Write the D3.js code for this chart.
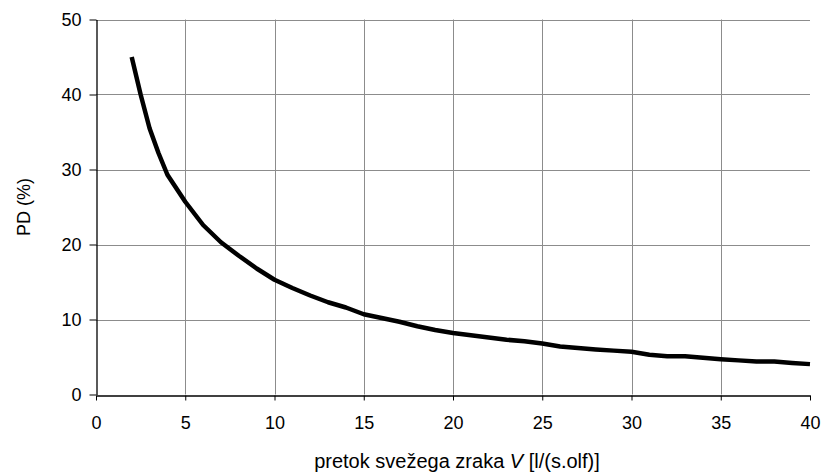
<!DOCTYPE html>
<html>
<head>
<meta charset="utf-8">
<title>PD vs pretok svežega zraka</title>
<script src="https://d3js.org/d3.v7.min.js"></script>
<style>
    body {
        margin: 0;
        background: #fff;
        font-family: "Liberation Sans", Arial, sans-serif;
    }
    .tick text { font-size: 18px; fill: #000; }
</style>
</head>
<body>
<script>
    // ventilation rate V [l/(s.olf)]
    const flow = [2, 2.5, 3, 3.5, 4, 5, 6, 7, 8, 9, 10, 11, 12, 13, 14, 15, 16, 17, 18, 19, 20,
                  21, 22, 23, 24, 25, 26, 27, 28, 29, 30, 31, 32, 33, 34, 35, 36, 37, 38, 39, 40];
    // percentage dissatisfied
    const pd = [45, 40, 35.5, 32.2, 29.3, 25.7, 22.6, 20.3, 18.5, 16.8, 15.3, 14.2, 13.2, 12.3, 11.6, 10.7,
                10.2, 9.7, 9.1, 8.6, 8.2, 7.9, 7.6, 7.3, 7.1, 6.8, 6.4, 6.2, 6.0, 5.85, 5.7,
                5.3, 5.1, 5.1, 4.9, 4.7, 4.55, 4.4, 4.4, 4.2, 4.05];

    const xTicks = [0, 5, 10, 15, 20, 25, 30, 35, 40];
    const yTicks = [0, 10, 20, 30, 40, 50];

    const W = 822, H = 472;
    const m = {left: 96, right: 12, top: 19.5, bottom: 77.5};

    const svg = d3.select("body").append("svg")
        .attr("width", W).attr("height", H);

    const x = d3.scaleLinear().domain([0, 40]).range([m.left, W - m.right]);
    const y = d3.scaleLinear().domain([0, 50]).range([H - m.bottom, m.top]);

    // gridlines
    svg.append("g").selectAll("line")
        .data(yTicks.filter(d => d > 0))
        .join("line")
        .attr("x1", x(0)).attr("x2", x(40))
        .attr("y1", d => Math.round(y(d)) + 0.5).attr("y2", d => Math.round(y(d)) + 0.5)
        .attr("stroke", "#8c8c8c").attr("stroke-width", 1);

    svg.append("g").selectAll("line")
        .data(xTicks.filter(d => d > 0 && d < 40))
        .join("line")
        .attr("x1", d => Math.round(x(d)) + 0.5).attr("x2", d => Math.round(x(d)) + 0.5)
        .attr("y1", y(0)).attr("y2", y(50))
        .attr("stroke", "#8c8c8c").attr("stroke-width", 1);

    // axes
    const xAxis = svg.append("g")
        .attr("transform", `translate(0,${Math.round(y(0)) + 0.5})`)
        .call(d3.axisBottom(x).tickValues(xTicks).tickSize(5).tickPadding(16).tickSizeOuter(0));
    const yAxis = svg.append("g")
        .attr("transform", `translate(${Math.round(x(0)) + 0.5},0)`)
        .call(d3.axisLeft(y).tickValues(yTicks).tickSize(7).tickPadding(8).tickSizeOuter(0));

    [xAxis, yAxis].forEach(a => {
        a.attr("font-family", null).attr("font-size", null);
        a.select(".domain").attr("stroke", "#000").attr("stroke-width", 1.3);
        a.selectAll(".tick line").attr("stroke", "#000");
    });

    // curve
    svg.append("path")
        .datum(flow.map((v, i) => [v, pd[i]]))
        .attr("fill", "none")
        .attr("stroke", "#000")
        .attr("stroke-width", 4.5)
        .attr("stroke-linejoin", "round")
        .attr("d", d3.line().x(d => x(d[0])).y(d => y(d[1])));

    // axis titles
    svg.append("text")
        .attr("transform", `translate(30,${(y(0) + y(50)) / 2}) rotate(-90)`)
        .attr("text-anchor", "middle")
        .attr("font-size", 18)
        .text("PD (%)");

    const xt = svg.append("text")
        .attr("x", 457)
        .attr("y", 468)
        .attr("text-anchor", "middle")
        .attr("font-size", 20);
    xt.append("tspan").text("pretok svežega zraka ");
    xt.append("tspan").attr("font-style", "italic").text("V");
    xt.append("tspan").text(" [l/(s.olf)]");
</script>
</body>
</html>
